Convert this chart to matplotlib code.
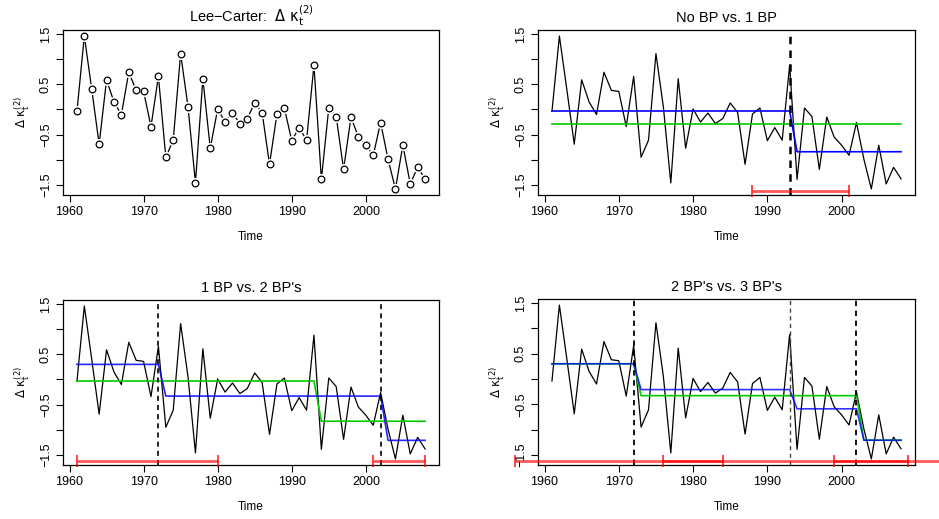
import numpy as np
import matplotlib.pyplot as plt

plt.rcParams['font.family'] = ['Liberation Sans', 'DejaVu Sans']
plt.rcParams['mathtext.fontset'] = 'dejavusans'

# Lee-Carter differenced kappa_t^(2), 1961-2008
years = np.arange(1961, 2009)
dkappa = [-0.04, 1.46, 0.40, -0.69, 0.59, 0.15, -0.10, 0.74, 0.38, 0.36,
          -0.34, 0.66, -0.95, -0.61, 1.11, 0.05, -1.46, 0.61, -0.77, 0.01,
          -0.25, -0.07, -0.28, -0.18, 0.13, -0.06, -1.09, -0.09, 0.03, -0.62,
          -0.36, -0.61, 0.88, -1.39, 0.03, -0.14, -1.19, -0.15, -0.55, -0.71,
          -0.91, -0.26, -0.99, -1.58, -0.71, -1.48, -1.15, -1.38]

# fitted break models: breakpoint years and segment levels
p2_green_bp, p2_green_lv = [], [-0.28]
p2_blue_bp, p2_blue_lv = [1993], [-0.03, -0.84]
p3_green_bp, p3_green_lv = [1993], [-0.03, -0.83]
p3_blue_bp, p3_blue_lv = [1972, 2002], [0.30, -0.33, -1.21]
p4_green_bp, p4_green_lv = [1972, 2002], [0.30, -0.33, -1.21]
p4_blue_bp, p4_blue_lv = [1972, 1993, 2002], [0.30, -0.21, -0.59, -1.21]

# breakpoint confidence intervals
p2_ci = [(1988, 2001)]
p3_ci = [(1961, 1980), (2001, 2008)]
p4_ci = [(1956, 1984), (1976, 2020), (1999, 2009)]

ylab = '$\\Delta\\ \\mathrm{\\kappa}_\\mathrm{t}^{(2)}$'
titles = ['Lee\u2212Carter:  ' + ylab, 'No BP vs. 1 BP',
          "1 BP vs. 2 BP's", "2 BP's vs. 3 BP's"]

W, H = 939, 519
fig = plt.figure(figsize=(W / 100, H / 100), dpi=100)
boxes = [(63, 30, 439, 195), (538, 30, 915, 195),
         (63, 300, 439, 465), (538, 299, 915, 465)]
axs = [fig.add_axes([l / W, 1 - b / H, (r - l) / W, (b - t) / H])
       for (l, t, r, b) in boxes]


def fitted(bp, lv):
    idx = np.searchsorted(bp, years, side='left')
    return np.array(lv)[idx]


def style(ax, title):
    ax.set_xlim(1959.12, 2009.88)
    ax.set_ylim(-1.70, 1.58)
    ax.set_xticks([1960, 1970, 1980, 1990, 2000])
    ax.set_yticks([-1.5, -1, -0.5, 0, 0.5, 1, 1.5])
    ax.set_yticklabels(['\u22121.5', '', '\u22120.5', '', '0.5', '', '1.5'],
                       rotation=90, va='center')
    ax.tick_params(direction='out', length=5, width=0.8, labelsize=9, pad=3)
    for s in ax.spines.values():
        s.set_linewidth(0.9)
    ax.set_title(title, fontsize=10.5, pad=6)
    ax.set_xlabel('Time', fontsize=8.5, labelpad=9)
    ax.set_ylabel(ylab, fontsize=8.5, labelpad=6)


def ci(ax, intervals):
    for lo, hi in intervals:
        ax.plot([lo, hi], [-1.63, -1.63], color=(1, 0, 0, 0.65), lw=2,
                clip_on=False, solid_capstyle='butt', zorder=5)
        ax.plot([lo, hi], [-1.63, -1.63], ls='none', marker='|', ms=8, mew=1.2,
                color=(1, 0, 0, 0.85), clip_on=False, zorder=5)


def vlines(ax, xs, lws, cols):
    for x, lw, c in zip(xs, lws, cols):
        ax.axvline(x, color=c, lw=lw, ls=(0, (3, 2.5)), zorder=4)


# panel 1
ax = axs[0]
ax.plot(years, dkappa, color='black', lw=0.9)
ax.plot(years, dkappa, ls='none', marker='o', ms=8, mfc='white', mec='none')
ax.plot(years, dkappa, ls='none', marker='o', ms=4.8, mfc='white', mec='black', mew=0.9)
style(ax, titles[0])

# panel 2
ax = axs[1]
ax.plot(years, dkappa, color='black', lw=0.9)
ax.plot(years, fitted(p2_green_bp, p2_green_lv), color='#00cc00', lw=1.2)
ax.plot(years, fitted(p2_blue_bp, p2_blue_lv), color='#0000ff', lw=1.2)
vlines(ax, [1993], [1.8], ['black'])
ci(ax, p2_ci)
style(ax, titles[1])

# panel 3
ax = axs[2]
ax.plot(years, dkappa, color='black', lw=0.9)
ax.plot(years, fitted(p3_green_bp, p3_green_lv), color='#00cc00', lw=1.2)
ax.plot(years, fitted(p3_blue_bp, p3_blue_lv), color='#0000ff', lw=1.2, alpha=0.85)
vlines(ax, [1972, 2002], [1.2, 1.2], ['black', 'black'])
ci(ax, p3_ci)
style(ax, titles[2])

# panel 4
ax = axs[3]
ax.plot(years, dkappa, color='black', lw=0.9)
ax.plot(years, fitted(p4_green_bp, p4_green_lv), color='#00cc00', lw=1.2)
ax.plot(years, fitted(p4_blue_bp, p4_blue_lv), color='#0000ff', lw=1.2, alpha=0.8)
vlines(ax, [1972, 1993, 2002], [1.3, 1.0, 1.3], ['black', '#444444', 'black'])
ci(ax, p4_ci)
style(ax, titles[3])

fig.savefig('out.png', dpi=100)
